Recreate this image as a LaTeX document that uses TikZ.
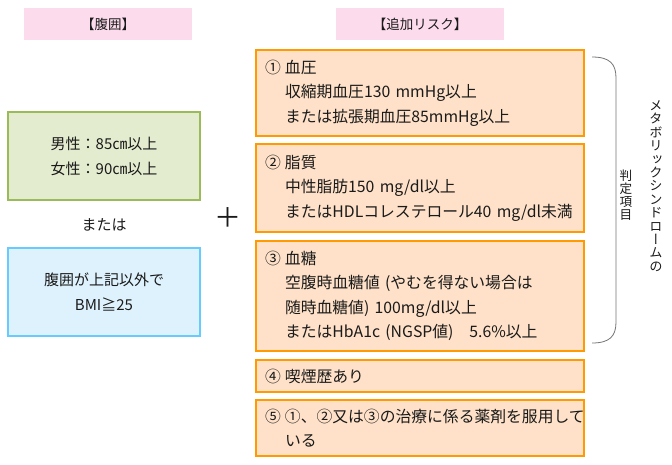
\documentclass[tikz,border=0pt]{standalone}
\usepackage{fontspec}
\setmainfont{Noto Sans CJK JP}
\newfontfamily\vertfont[RawFeature=+vert]{Noto Sans CJK JP}
\usepackage{xcolor}
\usetikzlibrary{positioning}

\definecolor{hdrpink}{HTML}{FCDCEC}
\definecolor{riskfill}{HTML}{FEE1C8}
\definecolor{riskedge}{HTML}{FF9A00}
\definecolor{waistfill}{HTML}{E4ECD0}
\definecolor{waistedge}{HTML}{9BBB59}
\definecolor{bmifill}{HTML}{DEF2FD}
\definecolor{bmiedge}{HTML}{66CCFF}
\definecolor{inkgray}{HTML}{1A1A1A}

\begin{document}
\begin{tikzpicture}[x=1pt, y=-1pt, text=inkgray,
    hdrbox/.style={fill=hdrpink, minimum width=168pt, minimum height=32pt, inner sep=0pt,
        font=\fontsize{13.5}{15}\selectfont},
    riskbox/.style={draw=riskedge, fill=riskfill, line width=2.5pt, anchor=north west,
        outer sep=0pt, minimum width=328pt, text width=310pt, inner xsep=9pt, inner ysep=0pt,
        align=left, font=\fontsize{15.8}{24.5}\selectfont},
    leftbox/.style={line width=2pt, minimum width=192pt, minimum height=88pt, align=center,
        font=\fontsize{15}{25}\selectfont},
    bracket/.style={draw=gray!90!black, line width=0.8pt},
    vtext/.style={align=center, inner sep=0pt, font=\vertfont\fontsize{13.2}{13.4}\selectfont}]

% number in front of a risk line, and indent of the lines below it
\def\itemno#1{\makebox[20pt][l]{#1}}
\def\ind{\hspace*{20pt}}

\useasboundingbox (0,0) rectangle (672,464);

% Headers
\node[hdrbox] (hdrwaist) at (108,24) {【腹囲】};
\node[hdrbox] (hdrrisk) at (420,24) {【追加リスク】};

% Waist / BMI
\node[leftbox, draw=waistedge, fill=waistfill] (waist) at (104,156)
    {男性：85㎝以上\\女性：90㎝以上};
\node[font=\fontsize{15}{18}\selectfont] (orword) at (104,225) {または};
\node[leftbox, draw=bmiedge, fill=bmifill] (bmi) at (104,292)
    {腹囲が上記以外で\\BMI≧25};

% Plus
\node[font=\fontsize{27}{27}\selectfont, inner sep=0pt] (plus) at (228,218) {＋};

% Additional risks
\node[riskbox, minimum height=86pt] (bp) at (256,50)
    {\itemno{①}血圧\\\ind 収縮期血圧130 mmHg以上\\\ind または拡張期血圧85mmHg以上};
\node[riskbox, minimum height=88pt, below=8pt of bp] (lipid)
    {\itemno{②}脂質\\\ind 中性脂肪150 mg/dl以上\\\ind またはHDLコレステロール40 mg/dl未満};
\node[riskbox, minimum height=110pt, below=9pt of lipid] (sugar)
    {\itemno{③}血糖\\\ind 空腹時血糖値 (やむを得ない場合は\\\ind 随時血糖値) 100mg/dl以上\\\ind またはHbA1c (NGSP値)　5.6\%以上};
\node[riskbox, minimum height=32pt, below=9pt of sugar] (smoke)
    {\itemno{④}喫煙歴あり};
\node[riskbox, minimum height=56pt, below=8pt of smoke] (drug)
    {\itemno{⑤}①、②又は③の治療に係る薬剤を服用して\\\ind いる};

% Bracket over items 1-3
\coordinate (brtop) at (592,57);
\coordinate (brbot) at (592,343);
\draw[bracket] (brtop) .. controls (610,57) and (616,64) .. (616,78)
    -- (616,322) .. controls (616,336) and (610,343) .. (brbot);

% Vertical caption
\node[vtext] (metabo) at (656,186)
    {メ\\タ\\ボ\\リ\\ッ\\ク\\シ\\ン\\ド\\ロ\\ー\\ム\\の};
\node[vtext, font=\vertfont\fontsize{12.6}{12.8}\selectfont] (hantei) at (626,195)
    {判\\定\\項\\目};

\end{tikzpicture}
\end{document}
